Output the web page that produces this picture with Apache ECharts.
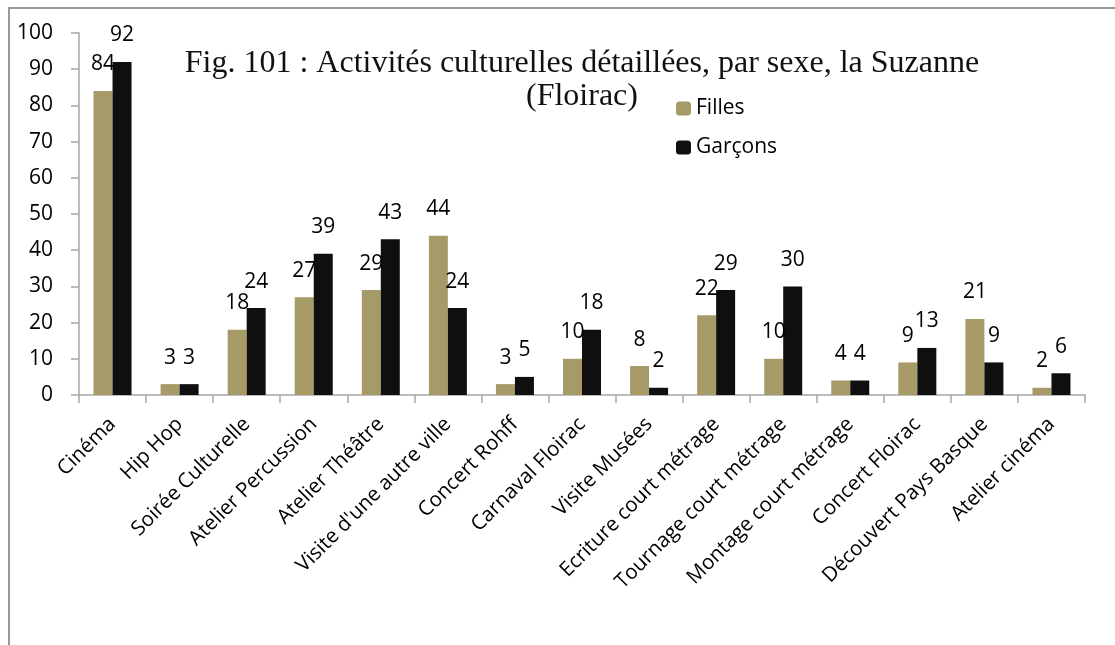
<!DOCTYPE html>
<html><head><meta charset="utf-8">
<script src="https://cdn.jsdelivr.net/npm/echarts@6/dist/echarts.min.js"></script>
<style>
html,body{margin:0;padding:0;background:#fff;overflow:hidden}
#frame{position:absolute;left:8px;top:7px;width:1200px;height:700px;border:2px solid #999;box-sizing:border-box}
#c{position:absolute;left:0;top:0;width:1115px;height:645px}
</style></head>
<body><div id="frame"></div><div id="c"></div>
<script>
const categories = ["Cinéma","Hip Hop","Soirée Culturelle","Atelier Percussion","Atelier Théâtre","Visite d'une autre ville","Concert Rohff","Carnaval Floirac","Visite Musées","Ecriture court métrage","Tournage court métrage","Montage court métrage","Concert Floirac","Découvert Pays Basque","Atelier cinéma"];
const filles = [84,3,18,27,29,44,3,10,8,22,10,4,9,21,2];
const garcons = [92,3,24,39,43,24,5,18,2,29,30,4,13,9,6];
const titleText = "Fig. 101 : Activités culturelles détaillées, par sexe, la Suzanne\n(Floirac)";

const SANS = 'Open Sans, Liberation Sans, sans-serif';
const chart = echarts.init(document.getElementById('c'), null, {renderer:'canvas'});
const lbl = {show:true, position:'top', distance:16, color:'#000', fontFamily:SANS, fontSize:21};
chart.setOption({
  animation:false,
  title:{text:titleText, left:577, textAlign:'center', top:42,
    textStyle:{fontFamily:'Liberation Serif, DejaVu Serif, serif', fontWeight:'normal', fontSize:32, color:'#111', lineHeight:33, align:'center'}},
  legend:{orient:'vertical', left:671, top:91, itemWidth:15, itemHeight:14, itemGap:14,
    textStyle:{fontFamily:SANS, fontSize:21, color:'#000', lineHeight:25},
    data:['Filles','Garçons']},
  grid:{left:79, right:30, top:33, bottom:250, containLabel:false},
  xAxis:{type:'category', data:categories,
    axisLine:{lineStyle:{color:'#a6a6a6', width:1.5}},
    axisTick:{show:true, alignWithLabel:false, length:8, lineStyle:{color:'#a6a6a6', width:1.5}},
    axisLabel:{interval:0, rotate:45, margin:26, color:'#000', fontFamily:SANS, fontSize:20.5}},
  yAxis:{type:'value', min:0, max:100, interval:10,
    axisLine:{show:true, lineStyle:{color:'#a6a6a6', width:1.5}},
    axisTick:{show:true, length:8, lineStyle:{color:'#a6a6a6', width:1.5}},
    splitLine:{show:false},
    axisLabel:{margin:26, color:'#000', fontFamily:SANS, fontSize:21}},
  series:[
    {name:'Filles', type:'bar', data:filles, barWidth:19, barGap:'0%', itemStyle:{color:'#a69a69'}, label:lbl},
    {name:'Garçons', type:'bar', data:garcons, barWidth:19, itemStyle:{color:'#0f0f0f'}, label:lbl}
  ]
});
</script></body></html>
